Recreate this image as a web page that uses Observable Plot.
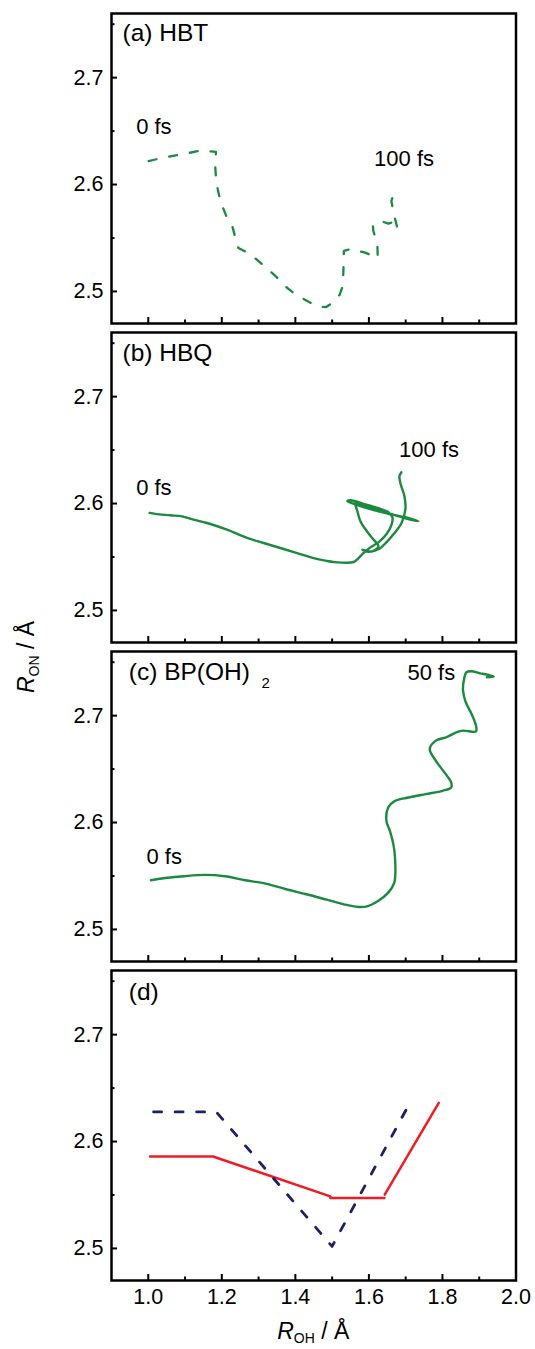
<!DOCTYPE html>
<html><head><meta charset="utf-8">
<script src="https://cdn.jsdelivr.net/npm/d3@7"></script>
<script src="https://cdn.jsdelivr.net/npm/@observablehq/plot@0.6"></script>
<style>body{margin:0;background:#fff;}</style>
</head><body><div id="chart"></div>
<script>
// ---- data ----
const panels = ["a", "b", "c", "d"];

// (a) HBT trajectory (dashed)
const hbtX = [1.001,1.046,1.087,1.141,1.169,1.184,1.182,1.185,1.196,1.215,1.229,1.239,1.245,1.278,1.321,1.346,1.378,1.403,1.441,1.463,1.484,1.501,1.520,1.529,1.531,1.532,1.550,1.590,1.624,1.623,1.612,1.611,1.631,1.653,1.667,1.678,1.667,1.661,1.665];
const hbtY = [2.622,2.6255,2.628,2.6316,2.631,2.6306,2.6175,2.6016,2.5847,2.5679,2.5604,2.5473,2.5407,2.5348,2.5222,2.5144,2.5032,2.4966,2.4894,2.4858,2.4854,2.4894,2.4966,2.505,2.5238,2.5379,2.5397,2.5363,2.5313,2.545,2.5566,2.5613,2.566,2.5634,2.565,2.5585,2.5734,2.5847,2.5884];

// (b) HBQ trajectory
const hbqX = [1.0035,1.019,1.0599,1.0917,1.1233,1.1597,1.2141,1.2686,1.3137,1.3592,1.4046,1.4498,1.4816,1.5042,1.5586,1.5714,1.585,1.6041,1.6259,1.6476,1.6612,1.6639,1.6531,1.6259,1.5905,1.5497,1.5415,1.5633,1.6041,1.6585,1.6993,1.7347,1.6993,1.6449,1.5905,1.5633,1.5687,1.5769,1.5905,1.6095,1.6259,1.6095,1.5823,1.5986,1.6259,1.6476,1.6667,1.6884,1.6993,1.6966,1.6857,1.683,1.6884];
const hbqY = [2.5912,2.5903,2.589,2.588,2.585,2.5818,2.5756,2.5678,2.5631,2.5584,2.5537,2.549,2.5466,2.5453,2.5453,2.5487,2.5537,2.559,2.5637,2.5712,2.5797,2.5872,2.5918,2.5956,2.5993,2.6031,2.6022,2.5993,2.5947,2.59,2.5872,2.5834,2.5862,2.5918,2.5975,2.6003,2.5928,2.5834,2.5759,2.5675,2.56,2.5553,2.5567,2.5548,2.5572,2.5637,2.5712,2.5815,2.5947,2.6068,2.619,2.6256,2.6293];

// (c) BP(OH)2 trajectory
const bpX = [1.0073,1.0416,1.0971,1.1524,1.2082,1.2637,1.3192,1.3747,1.4302,1.4857,1.532,1.5644,1.5921,1.6248,1.6525,1.669,1.671,1.6664,1.6571,1.6476,1.6525,1.671,1.708,1.7543,1.8005,1.8237,1.8237,1.8052,1.782,1.7654,1.782,1.8098,1.8376,1.856,1.8912,1.8912,1.8792,1.8634,1.856,1.858,1.8653,1.8792,1.9023,1.9254,1.9393,1.9208];
const bpY = [2.546,2.5479,2.5498,2.551,2.5498,2.546,2.5428,2.5376,2.5329,2.5278,2.5235,2.5213,2.5213,2.5266,2.5344,2.5438,2.5672,2.5798,2.5922,2.6016,2.6141,2.6203,2.6234,2.6266,2.6297,2.6328,2.6375,2.6469,2.6578,2.6688,2.6766,2.6797,2.6844,2.686,2.6853,2.6906,2.7016,2.7125,2.7234,2.7328,2.7406,2.7415,2.7396,2.7381,2.7366,2.7359];

// (d) schematic paths
const redX = [1.005,1.176,1.495, 1.495,1.642, 1.643,1.790];
const redY = [2.586,2.586,2.5487, 2.5471,2.5471, 2.5503,2.6362];
const redSeg = [1,1,1,2,2,3,3];
const blueX = [1.0145,1.185,1.4998,1.704];
const blueY = [2.6277,2.6277,2.5019,2.6315];

// panel labels and annotations
const labelPanel = ["a","b","c","d"];
const labelText = ["(a) HBT","(b) HBQ","(c) BP(OH)","(d)"];
const labelX = [0.930,0.930,0.947,0.947];
const labelY = [2.7345,2.7335,2.7335,2.7325];
const subPanel = ["c"];
const subText = ["2"];
const subX = [1.308];
const subY = [2.7255];
const annPanel = ["a","a","b","b","c","c"];
const annText = ["0 fs","100 fs","0 fs","100 fs","0 fs","50 fs"];
const annX = [0.967,1.614,0.967,1.682,0.995,1.705];
const annY = [2.647,2.6175,2.608,2.644,2.5616,2.7338];

// ticks
const xMajor = [1.0,1.2,1.4,1.6,1.8,2.0];
const xMinor = [1.1,1.3,1.5,1.7,1.9];
const yMajor = [2.5,2.6,2.7];
const yMinor = [2.55,2.65,2.75];

// ---- build tables ----
const rows = (p, X, Y, Z) => X.map((x, i) => ({panel: p, x, y: Y[i], z: Z ? Z[i] : 0}));
const hbtRows = rows("a", hbtX, hbtY);
const hbqRows = rows("b", hbqX, hbqY);
const bpRows = rows("c", bpX, bpY);
const redRows = rows("d", redX, redY, redSeg);
const blueRows = rows("d", blueX, blueY);
const labelRows = labelText.map((t, i) => ({panel: labelPanel[i], text: t, x: labelX[i], y: labelY[i]}));
const subRows = subText.map((t, i) => ({panel: subPanel[i], text: t, x: subX[i], y: subY[i]}));
const annRows = annText.map((t, i) => ({panel: annPanel[i], text: t, x: annX[i], y: annY[i]}));

const W = 535, H = 1349;
const mL = 111, mR = 19.5, mT = 12.7, mB = 68.3;
const green = "#1c8a3e";
const font = "'Liberation Sans', Arial, Helvetica, sans-serif";
const fmt = d3.format(".1f");

const chart = Plot.plot({
  width: W, height: H,
  marginLeft: mL, marginRight: mR, marginTop: mT, marginBottom: mB,
  style: {fontFamily: font, fontSize: "21.5px", color: "#000", background: "#fff"},
  x: {domain: [0.9, 2.0]},
  y: {domain: [2.47, 2.76]},
  fy: {domain: panels, axis: null, paddingInner: 0.029, paddingOuter: 0},
  marks: [
    Plot.line(hbtRows, {x: "x", y: "y", fy: "panel", stroke: green, strokeWidth: 2.3, strokeDasharray: "8,13"}),
    Plot.line(hbqRows, {x: "x", y: "y", fy: "panel", stroke: green, strokeWidth: 2.4, curve: "catmull-rom"}),
    Plot.line(bpRows, {x: "x", y: "y", fy: "panel", stroke: green, strokeWidth: 2.4, curve: "catmull-rom"}),
    Plot.line(redRows, {x: "x", y: "y", z: "z", fy: "panel", stroke: "#ee1c24", strokeWidth: 2.5}),
    Plot.line(blueRows, {x: "x", y: "y", fy: "panel", stroke: "#1e1f66", strokeWidth: 2.8, strokeDasharray: "8,13.5"}),
    Plot.text(labelRows, {x: "x", y: "y", fy: "panel", text: "text", textAnchor: "start", lineAnchor: "bottom", fontSize: 24.5}),
    Plot.text(subRows, {x: "x", y: "y", fy: "panel", text: "text", textAnchor: "start", lineAnchor: "bottom", fontSize: 15}),
    Plot.text(annRows, {x: "x", y: "y", fy: "panel", text: "text", textAnchor: "start", lineAnchor: "bottom", fontSize: 22}),
    Plot.frame({stroke: "#000", strokeWidth: 2.5}),
    Plot.axisY(yMajor, {tickSize: -6, tickPadding: 14, strokeWidth: 2, tickFormat: fmt, label: null}),
    Plot.axisY(yMinor, {tickSize: -3.5, strokeWidth: 2, fill: "none", label: null}),
    Plot.axisX(xMajor, {tickSize: -6, strokeWidth: 2, fill: "none", facetAnchor: null, label: null}),
    Plot.axisX(xMinor, {tickSize: -3.5, strokeWidth: 2, fill: "none", facetAnchor: null, label: null}),
    Plot.axisX(xMajor, {tickSize: 0, tickPadding: 8, tickFormat: fmt, label: null})
  ]
});

// axis titles with italic symbol and subscript
const svg = d3.select(chart);
const cx = mL + (W - mL - mR) / 2;
const xt = svg.append("text").attr("x", cx).attr("y", H - 10).attr("text-anchor", "middle")
  .attr("font-size", 23).attr("fill", "#000");
xt.append("tspan").attr("font-style", "italic").text("R");
xt.append("tspan").attr("font-size", 14).attr("dy", 4).text("OH");
xt.append("tspan").attr("dy", -4).text(" / Å");

const yt = svg.append("text").attr("transform", `translate(34,657) rotate(-90)`).attr("text-anchor", "middle")
  .attr("font-size", 23).attr("fill", "#000");
yt.append("tspan").attr("font-style", "italic").text("R");
yt.append("tspan").attr("font-size", 14).attr("dy", 5).text("ON");
yt.append("tspan").attr("dy", -5).text(" / Å");

document.getElementById("chart").appendChild(chart);
</script></body></html>
